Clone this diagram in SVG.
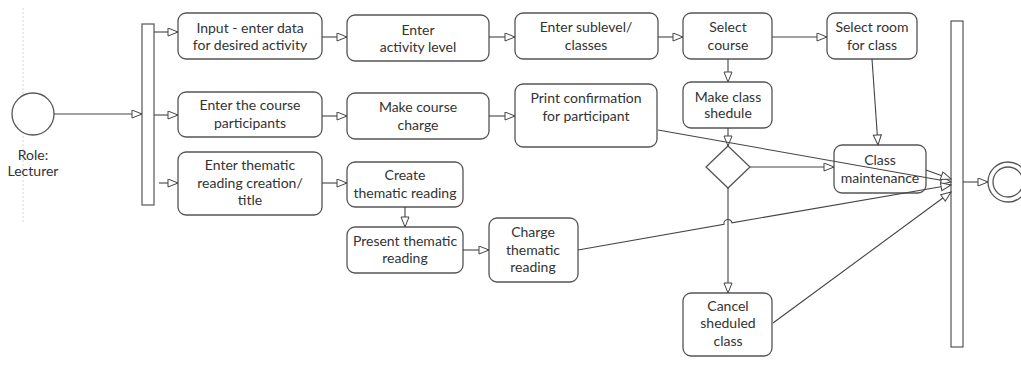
<svg xmlns="http://www.w3.org/2000/svg" width="1021" height="365" viewBox="0 0 1021 365">
<style>
.n{fill:#fff;stroke:#555;stroke-width:1.3}
.t{font-family:Lato,"Liberation Sans",sans-serif;font-size:14px;fill:#333;text-anchor:middle}
.c{fill:none;stroke:#444;stroke-width:1.1}
.bar{fill:#fff;stroke:#555;stroke-width:1.2}
</style>
<defs>
<marker id="a" markerWidth="12" markerHeight="10" refX="11" refY="4.5" orient="auto" markerUnits="userSpaceOnUse">
<path d="M1,0.5 L11,4.5 L1,8.5 Z" fill="#fff" stroke="#444" stroke-width="1"/>
</marker>
</defs>
<rect width="1021" height="365" fill="#fff"/>
<line x1="23" y1="8" x2="23" y2="222" stroke="#ccc" stroke-width="0.8" stroke-dasharray="2,2"/>

<g id="start">
<circle cx="33" cy="114" r="21" fill="#fff" stroke="#555" stroke-width="1.3"/>
<text class="t" x="33" y="160">Role:</text>
<text class="t" x="33" y="176">Lecturer</text>
</g>
<g id="fork"><rect class="bar" x="142" y="24" width="12" height="181"/></g>
<g id="join"><rect class="bar" x="951" y="21" width="12" height="326"/></g>
<g id="final">
<circle cx="1008" cy="182" r="20" fill="#fff" stroke="#555" stroke-width="1.3"/>
<circle cx="1008" cy="182" r="15" fill="#fff" stroke="#555" stroke-width="1.3"/>
</g>

<g id="n-input"><rect class="n" x="178" y="13" width="144" height="46" rx="8"/>
<text class="t" x="250" y="33">Input - enter data</text><text class="t" x="250" y="50">for desired activity</text></g>
<g id="n-activity"><rect class="n" x="347" y="15" width="142" height="46" rx="8"/>
<text class="t" x="418" y="35">Enter</text><text class="t" x="418" y="52">activity level</text></g>
<g id="n-sublevel"><rect class="n" x="515" y="13" width="143" height="46" rx="8"/>
<text class="t" x="586" y="32">Enter sublevel/</text><text class="t" x="586" y="50">classes</text></g>
<g id="n-selectcourse"><rect class="n" x="683" y="13" width="89" height="46" rx="8"/>
<text class="t" x="728" y="32">Select</text><text class="t" x="728" y="50">course</text></g>
<g id="n-room"><rect class="n" x="827" y="13" width="90" height="46" rx="8"/>
<text class="t" x="872" y="32">Select room</text><text class="t" x="872" y="50">for class</text></g>

<g id="n-participants"><rect class="n" x="178" y="92" width="144" height="45" rx="8"/>
<text class="t" x="250" y="110">Enter the course</text><text class="t" x="250" y="128">participants</text></g>
<g id="n-charge"><rect class="n" x="347" y="93" width="142" height="46" rx="8"/>
<text class="t" x="418" y="112">Make course</text><text class="t" x="418" y="130">charge</text></g>
<g id="n-print"><rect class="n" x="515" y="84" width="142" height="63" rx="8"/>
<text class="t" x="586" y="103">Print confirmation</text><text class="t" x="586" y="121">for participant</text></g>
<g id="n-schedule"><rect class="n" x="683" y="82" width="89" height="46" rx="8"/>
<text class="t" x="728" y="102">Make class</text><text class="t" x="728" y="118">shedule</text></g>

<g id="n-thematic"><rect class="n" x="178" y="152" width="144" height="63" rx="8"/>
<text class="t" x="250" y="170">Enter thematic</text><text class="t" x="250" y="188">reading creation/</text><text class="t" x="250" y="205">title</text></g>
<g id="n-create"><rect class="n" x="347" y="162" width="116" height="45" rx="8"/>
<text class="t" x="405" y="180">Create</text><text class="t" x="405" y="198">thematic reading</text></g>
<g id="n-present"><rect class="n" x="347" y="227" width="116" height="46" rx="8"/>
<text class="t" x="405" y="246">Present thematic</text><text class="t" x="405" y="263">reading</text></g>
<g id="n-chargethematic"><rect class="n" x="489" y="218" width="89" height="64" rx="8"/>
<text class="t" x="533" y="237">Charge</text><text class="t" x="533" y="255">thematic</text><text class="t" x="533" y="272">reading</text></g>

<g id="decision"><path class="n" d="M728,146 L750,167 L728,188 L706,167 Z"/></g>
<g id="n-maintenance"><rect class="n" x="834" y="145" width="92" height="48" rx="8"/>
<text class="t" x="880" y="165">Class</text><text class="t" x="880" y="183">maintenance</text></g>
<g id="n-cancel"><rect class="n" x="683" y="293" width="89" height="63" rx="8"/>
<text class="t" x="728" y="311">Cancel</text><text class="t" x="728" y="328">sheduled</text><text class="t" x="728" y="346">class</text></g>

<g id="connectors" marker-end="url(#a)">
<path class="c" marker-end="url(#a)" d="M54,114 L142,114"/>
<path class="c" marker-end="url(#a)" d="M154,32 L178,32"/>
<path class="c" marker-end="url(#a)" d="M154,115 L178,115"/>
<path class="c" marker-end="url(#a)" d="M159,183 L178,183"/>
<path class="c" marker-end="url(#a)" d="M322,37 L347,37"/>
<path class="c" marker-end="url(#a)" d="M489,37 L515,37"/>
<path class="c" marker-end="url(#a)" d="M658,37 L683,37"/>
<path class="c" marker-end="url(#a)" d="M772,37 L827,37"/>
<path class="c" marker-end="url(#a)" d="M728,59 L728,82"/>
<path class="c" marker-end="url(#a)" d="M728,128 L728,146"/>
<path class="c" marker-end="url(#a)" d="M750,167 L834,167"/>
<path class="c" marker-end="url(#a)" d="M872,59 L878,145"/>
<path class="c" marker-end="url(#a)" d="M322,116 L347,116"/>
<path class="c" marker-end="url(#a)" d="M489,116 L515,116"/>
<path class="c" marker-end="url(#a)" d="M322,183 L347,183"/>
<path class="c" marker-end="url(#a)" d="M405,207 L405,227"/>
<path class="c" marker-end="url(#a)" d="M463,250 L489,250"/>
<path class="c" marker-end="url(#a)" d="M728,188 L728,293"/>
<path class="c" marker-end="url(#a)" d="M658,130 L951,182"/>
<path class="c" marker-end="url(#a)" d="M926,170 L951,179"/>
<path class="c" marker-end="url(#a)" d="M578,250 L724,224.2 A4,4 0 0 1 732,222.8 L951,185"/>
<path class="c" marker-end="url(#a)" d="M773,323 L951,192"/>
<path class="c" marker-end="url(#a)" d="M963,182 L988,182"/>
</g>
</svg>
